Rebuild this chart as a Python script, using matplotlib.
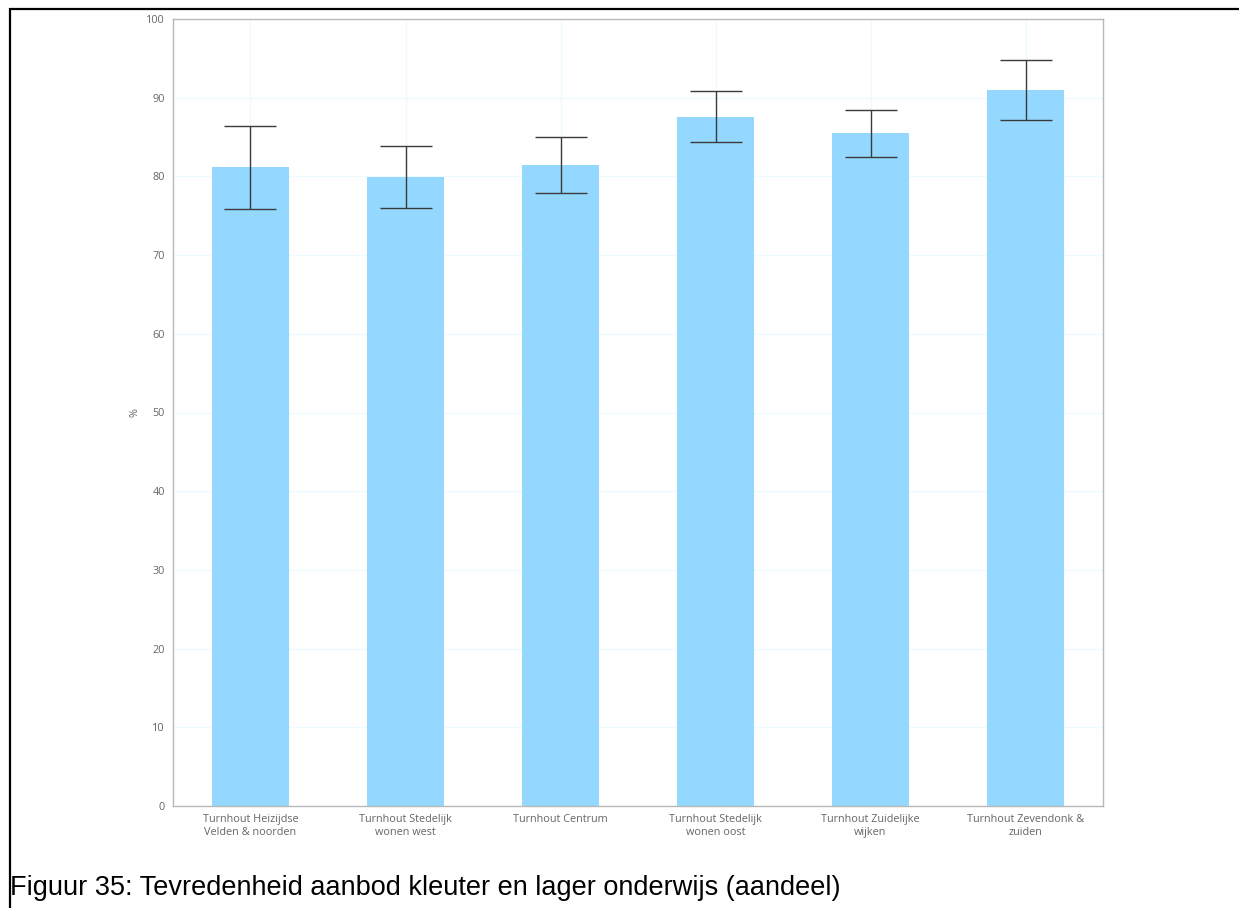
import matplotlib
matplotlib.use("Agg")
import matplotlib.pyplot as plt
from matplotlib.lines import Line2D

categories = ["Turnhout Heizijdse\nVelden & noorden", "Turnhout Stedelijk\nwonen west",
              "Turnhout Centrum", "Turnhout Stedelijk\nwonen oost",
              "Turnhout Zuidelijke\nwijken", "Turnhout Zevendonk &\nzuiden"]
values = [81.2, 79.9, 81.4, 87.5, 85.5, 91.0]
err_low = [75.9, 76.0, 77.9, 84.4, 82.5, 87.2]
err_high = [86.4, 83.9, 85.0, 90.9, 88.4, 94.8]
yticks = list(range(0, 101, 10))
caption = "Figuur 35: Tevredenheid aanbod kleuter en lager onderwijs (aandeel)"

W, H = 1239, 908
fig = plt.figure(figsize=(W/100, H/100), dpi=100)
ax = fig.add_axes([173/W, 1-806/H, (1103-173)/W, (806-19)/H])

x = list(range(len(categories)))
yerr = [[v - l for v, l in zip(values, err_low)], [h - v for v, h in zip(values, err_high)]]
ax.bar(x, values, width=0.5, color="#94d8ff", zorder=2)
ax.errorbar(x, values, yerr=yerr, fmt="none", ecolor="#3a3a3a", elinewidth=1.0,
            capsize=18.5, capthick=1.0, zorder=3)

ax.set_xlim(-0.5, len(categories) - 0.5)
ax.set_ylim(0, 100)
ax.set_yticks(yticks)
ax.set_xticks(x)
ax.set_xticklabels(categories, fontsize=7.8, color="#666666", family="Open Sans", linespacing=1.15)
for lbl in ax.get_yticklabels():
    lbl.set_fontsize(7.8)
    lbl.set_color("#666666")
    lbl.set_family("Open Sans")
ax.tick_params(axis="both", length=0, pad=6)
ax.grid(True, color="#eefaff", linewidth=1, zorder=0)
ax.set_axisbelow(True)
for s in ax.spines.values():
    s.set_color("#b8b8b8")
    s.set_linewidth(1)
ax.set_ylabel("%", fontsize=7.8, color="#666666", family="Open Sans", labelpad=-2)
ax.yaxis.set_label_coords((141 - 173) / (1103 - 173), 0.5)

fig.text(10/W, 1-888/H, caption, fontsize=19.5, family="Liberation Sans", color="black",
         va="center", ha="left")

fig.add_artist(Line2D([9.5/W, 9.5/W], [0, 1-8/H], color="black", linewidth=1.6,
                      solid_capstyle="butt", transform=fig.transFigure))
fig.add_artist(Line2D([9/W, 1], [1-8.5/H, 1-8.5/H], color="black", linewidth=1.6,
                      solid_capstyle="butt", transform=fig.transFigure))

fig.savefig("out.png", dpi=100)
